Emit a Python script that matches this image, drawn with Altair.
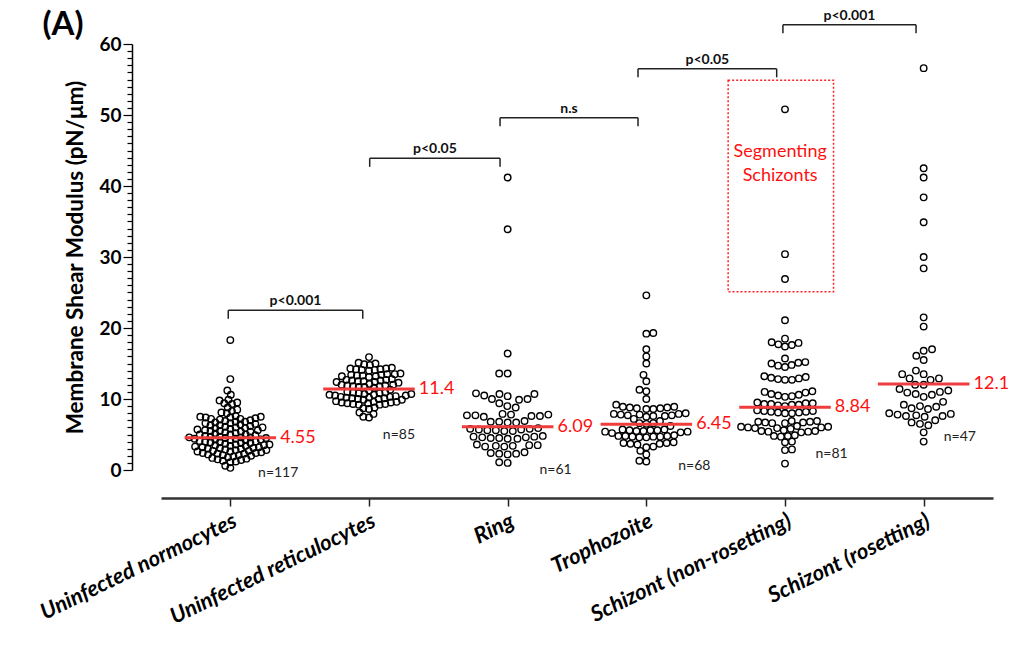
import math
import altair as alt
import pandas as pd

# ---------------- data ----------------
categories = ["Uninfected normocytes", "Uninfected reticulocytes", "Ring",
              "Trophozoite", "Schizont (non-rosetting)", "Schizont (rosetting)"]

normocytes = [18.3, 12.8, 11.2, 10.6, 9.9, 9.8, 9.4, 9.3, 9.5,
              8.8, 8.5, 8.3, 8.0, 8.1,
              7.6, 7.5, 7.5, 7.4, 7.4, 7.3, 7.2, 7.2, 7.1, 7.0,
              6.9, 6.8, 6.7, 6.6, 6.6, 6.5, 6.4, 6.3, 6.3, 6.2, 6.1,
              6.0, 5.9, 5.9, 5.8, 5.7, 5.6, 5.6, 5.5, 5.4, 5.4, 5.3, 5.2,
              5.1, 5.0, 5.0, 4.9, 4.8, 4.7, 4.7, 4.6, 4.6, 4.5, 4.5, 4.4, 4.4,
              4.3, 4.2, 4.2, 4.1, 4.0, 4.0, 3.9, 3.8, 3.8, 3.7, 3.6, 3.6,
              3.5, 3.4, 3.4, 3.3, 3.2, 3.2, 3.1, 3.0, 3.0, 2.9, 2.8, 2.8,
              2.7, 2.6, 2.6, 2.5, 2.4, 2.3, 2.3, 2.2, 2.1, 2.1, 2.0,
              1.9, 1.8, 1.7, 1.6, 1.5, 1.4, 1.3, 1.2, 1.1,
              0.6, 0.3,
              6.8, 6.0, 5.5, 5.0, 4.6, 4.3, 3.9, 3.5, 3.1, 2.7, 2.4]

reticulocytes = [15.9,
                 15.1, 15.0, 14.9, 14.8,
                 14.4, 14.3, 14.3, 14.2, 14.2, 14.1, 14.1, 14.0,
                 13.6, 13.5, 13.5, 13.4, 13.4, 13.3, 13.3, 13.2, 13.2, 13.1,
                 12.8, 12.7, 12.7, 12.6, 12.6, 12.5, 12.5, 12.4, 12.4, 12.3,
                 12.1, 12.0, 12.0, 11.9, 11.9, 11.8, 11.8, 11.7, 11.7, 11.6,
                 11.0, 10.9, 10.9, 10.8, 10.8, 10.7, 10.7, 10.6, 10.6, 10.5, 10.5,
                 10.4, 10.3, 10.3, 10.2, 10.2, 10.1, 10.1, 10.0, 10.0, 9.9, 9.9,
                 9.7, 9.6, 9.6, 9.5, 9.5, 9.4, 9.4, 9.3, 9.3, 9.2, 9.2,
                 8.8, 8.7, 8.6,
                 8.1, 7.9,
                 7.5, 7.4,
                 11.3, 11.2]

ring = [41.2, 33.9, 16.4, 13.6, 13.6,
        10.8, 10.7, 10.7, 10.5, 10.4, 10.0, 10.0, 9.9,
        9.4, 9.0, 8.8,
        7.9, 7.8, 7.8, 7.7, 7.7, 7.6, 7.6, 7.5,
        6.9, 6.8, 6.8, 6.7, 6.7,
        5.9, 5.8, 5.8, 5.7, 5.7, 5.6, 5.6, 5.5, 5.5,
        4.8, 4.7, 4.7, 4.6, 4.6, 4.5, 4.5, 4.4, 4.4,
        3.6, 3.5, 3.5, 3.4, 3.4, 3.3, 3.3,
        2.5, 2.4, 2.3, 2.3, 2.2,
        1.1, 1.0]

trophozoite = [24.6, 19.3, 19.2, 17.0, 16.0, 15.0, 13.4, 12.5, 11.3, 11.1, 10.0, 9.2,
               8.9, 8.9, 8.8, 8.8, 8.7, 8.7, 8.6, 8.6,
               8.0, 7.9, 7.9, 7.8, 7.8, 7.7, 7.7, 7.6, 7.6, 7.5,
               7.2, 6.9, 6.6, 6.6, 6.5,
               6.2, 5.7, 5.7, 5.6, 5.6, 5.6, 5.5, 5.5, 5.4, 5.4, 5.3,
               5.2, 4.9, 4.8, 4.8, 4.8, 4.7, 4.7, 4.7, 4.6, 4.6,
               3.9, 3.8, 3.8, 3.7, 3.7, 3.6,
               3.3, 3.2, 2.7, 2.2, 1.3, 1.2]

schizont_nonrosetting = [50.8, 30.4, 26.9, 21.1, 18.5,
                         18.0, 17.9, 17.7, 17.6, 17.4,
                         15.7,
                         15.2, 15.1, 15.0, 14.8, 14.7, 14.5,
                         13.2, 13.1, 13.0, 12.9, 12.8, 12.7, 12.7,
                         11.1, 11.0, 10.9, 10.7, 10.6, 10.5, 10.4, 10.3,
                         9.5, 9.4, 9.4, 9.3, 9.3, 9.2, 9.2, 9.1, 9.0,
                         8.4, 8.3, 8.3, 8.2, 8.2, 8.1, 8.1, 8.0, 8.0,
                         6.9, 6.9, 6.8, 6.8, 6.7, 6.7, 6.6, 6.6,
                         6.2, 6.1, 6.1, 6.0, 6.0, 5.9, 5.9, 5.8,
                         5.6, 5.5, 5.5, 5.4, 5.4, 5.3,
                         4.9, 4.8, 4.8, 4.7,
                         4.0, 3.9, 2.9, 2.8, 0.9]

schizont_rosetting = [56.6, 42.5, 41.2, 38.4, 34.9, 30.0, 28.4, 21.5, 20.2,
                      17.0, 16.8, 16.1, 15.5,
                      14.0, 13.5, 13.5, 12.9, 12.9, 12.7, 12.0, 12.0,
                      11.4, 11.2, 11.0, 10.9, 10.7, 10.6,
                      10.3, 9.6,
                      9.2, 9.0, 8.9, 8.7, 8.6,
                      8.0, 7.9, 7.8, 7.7, 7.6, 7.6, 7.5,
                      7.0, 6.7, 6.5, 6.3,
                      5.3, 4.0]

groups = [normocytes, reticulocytes, ring, trophozoite,
          schizont_nonrosetting, schizont_rosetting]

medians = [4.55, 11.4, 6.09, 6.45, 8.84, 12.1]
median_labels = ["4.55", "11.4", "6.09", "6.45", "8.84", "12.1"]

# n= label placement (y value, x shift in category units)
n_label_y = [-0.4, 4.9, 0.0, 0.6, 2.25, 4.65]
n_label_dx = [0.20, 0.10, 0.23, 0.23, 0.22, 0.145]

# significance brackets
br_x1 = [0.985, 2.005, 2.945, 3.94, 4.985]
br_x2 = [1.955, 2.945, 3.94, 4.94, 5.945]
br_y = [22.5, 43.9, 49.6, 56.5, 62.7]
br_text = ["p<0.001", "p<0.05", "n.s", "p<0.05", "p<0.001"]

box_x = [4.59, 5.35]
box_y = [25.1, 54.9]
box_text = ["Segmenting", "Schizonts"]
box_text_y = [44.8, 41.4]

# ---------------- layout helpers ----------------
W, H = 832, 426
XPU = W / 6.0
YPU = H / 60.0
FONT = "Lato"


def swarm(vals, maxhalf=44.0, d0=8.5):
    d = d0
    order = sorted(vals)
    while True:
        placed = []
        for i, v in enumerate(order):
            y = v * YPU
            cands = [0.0]
            for px, py in placed:
                dy = y - py
                if abs(dy) < d:
                    dx = math.sqrt(d * d - dy * dy)
                    cands += [px + dx, px - dx]
            sgn = 1 if i % 2 else -1
            cands.sort(key=lambda c: (round(abs(c), 6), sgn * c))
            chosen = 0.0
            for c in cands:
                if all((c - px) ** 2 + (y - py) ** 2 >= d * d - 1e-6 for px, py in placed):
                    chosen = c
                    break
            placed.append((chosen, y))
        if max(abs(p[0]) for p in placed) <= maxhalf or d <= 4:
            return [(p[0] / XPU, v) for p, v in zip(placed, order)]
        d -= 0.25


rows = []
for gi, vals in enumerate(groups):
    for off, v in swarm(vals):
        rows.append({"x": gi + 1 + off, "value": v})
pts = pd.DataFrame(rows)

med = pd.DataFrame({
    "x1": [i + 1 - 0.33 for i in range(6)],
    "x2": [i + 1 + 0.33 for i in range(6)],
    "xt": [i + 1 + 0.345 for i in range(6)],
    "m": medians, "label": median_labels})

nlab = pd.DataFrame({
    "x": [i + 1 + dx for i, dx in enumerate(n_label_dx)],
    "y": n_label_y,
    "t": ["n=%d" % len(g) for g in groups]})

br = pd.DataFrame({"x1": br_x1, "x2": br_x2, "y": br_y, "yd": [v - 1.2 for v in br_y],
                   "xm": [(a + b) / 2 for a, b in zip(br_x1, br_x2)], "t": br_text})
drops = pd.DataFrame({"x": br_x1 + br_x2, "y": br_y + br_y,
                      "yd": [v - 1.2 for v in br_y] * 2})

box = pd.DataFrame({"x1": [box_x[0]], "x2": [box_x[1]], "y1": [box_y[0]], "y2": [box_y[1]]})
boxt = pd.DataFrame({"x": [4.965, 4.965], "y": box_text_y, "t": box_text})

label_js = "[" + ",".join("'%s'" % c for c in categories) + "][datum.value - 1]"

xscale = alt.Scale(domain=[0.5, 6.5], nice=False, zero=False)
yscale = alt.Scale(domain=[0, 60], nice=False, zero=False)

xaxis = alt.Axis(values=[1, 2, 3, 4, 5, 6], labelExpr=label_js, title=None, grid=False,
                 labelAngle=-26, labelAlign="right", labelBaseline="top", labelPadding=4,
                 labelFont=FONT, labelFontSize=22, labelFontWeight="bold", labelFontStyle="italic",
                 labelColor="black", labelFlush=False, labelOverlap=False, labelBound=False,
                 labelLimit=400,
                 domainColor="#333333", domainWidth=2.5, tickColor="#222222", tickWidth=1.5,
                 tickSize=8, offset=28)

yaxis = alt.Axis(values=list(range(0, 61)),
                 labelExpr="datum.value % 10 === 0 ? datum.label : ''",
                 title="Membrane Shear Modulus (pN/\u03bcm)", titleFont=FONT, titleFontSize=22.5,
                 titleFontWeight="bold", titleColor="black", titlePadding=11,
                 grid=False, labelFont=FONT, labelFontSize=19, labelFontWeight="bold",
                 labelColor="black", labelPadding=2, labelOverlap=False, labelFlush=False,
                 labelBound=False,
                 domainColor="black", domainWidth=1.5, tickColor="black", tickWidth=1.2,
                 tickSize={"condition": {"test": "datum.value % 10 === 0", "value": 9}, "value": 5},
                 offset=29)


def X(field):
    return alt.X(field, scale=xscale, axis=xaxis)


def Y(field):
    return alt.Y(field, scale=yscale, axis=yaxis)


points = alt.Chart(pts).mark_point(shape="circle", filled=False, color="black",
                                   strokeWidth=1.4, size=42, opacity=1).encode(
    x=X("x:Q"), y=Y("value:Q"))

med_rule = alt.Chart(med).mark_rule(color="#f03c3c", strokeWidth=3).encode(
    x=X("x1:Q"), x2="x2:Q", y=Y("m:Q"))
med_text = alt.Chart(med).mark_text(color="#ff1010", font=FONT, fontSize=18, align="left",
                                    baseline="middle", dx=2).encode(
    x=X("xt:Q"), y=Y("m:Q"), text="label:N")

n_text = alt.Chart(nlab).mark_text(color="#222222", font=FONT, fontSize=14, align="left",
                                   baseline="middle").encode(
    x=X("x:Q"), y=Y("y:Q"), text="t:N")

br_h = alt.Chart(br).mark_rule(color="#222222", strokeWidth=1.5).encode(
    x=X("x1:Q"), x2="x2:Q", y=Y("y:Q"))
br_v = alt.Chart(drops).mark_rule(color="#222222", strokeWidth=1.5).encode(
    x=X("x:Q"), y=Y("y:Q"), y2="yd:Q")
br_t = alt.Chart(br).mark_text(color="#111111", font=FONT, fontSize=14, fontWeight="bold",
                               baseline="bottom", dy=-2).encode(
    x=X("xm:Q"), y=Y("y:Q"), text="t:N")

box_rect = alt.Chart(box).mark_rect(fill=None, fillOpacity=0, stroke="#ff2020", strokeWidth=1.5,
                                    strokeDash=[2, 2]).encode(
    x=X("x1:Q"), x2="x2:Q", y=Y("y1:Q"), y2="y2:Q")
box_txt = alt.Chart(boxt).mark_text(color="#ff1010", font=FONT, fontSize=18,
                                    baseline="middle").encode(
    x=X("x:Q"), y=Y("y:Q"), text="t:N")

panel = alt.Chart(pd.DataFrame({"t": ["(A)"]})).mark_text(
    font=FONT, fontSize=33, fontWeight="bold", color="black", align="center",
    baseline="middle").encode(x=alt.value(-98), y=alt.value(-19), text="t:N")

chart = alt.layer(points, box_rect, br_h, br_v, br_t, med_rule, med_text, n_text,
                  box_txt, panel).properties(
    width=W, height=H,
    autosize=alt.AutoSizeParams(type="none"),
    padding={"left": 153, "top": 36, "right": 15, "bottom": 166},
).configure_view(stroke=None)

chart.save("out.html", embed_options={"renderer": "svg", "actions": False})
